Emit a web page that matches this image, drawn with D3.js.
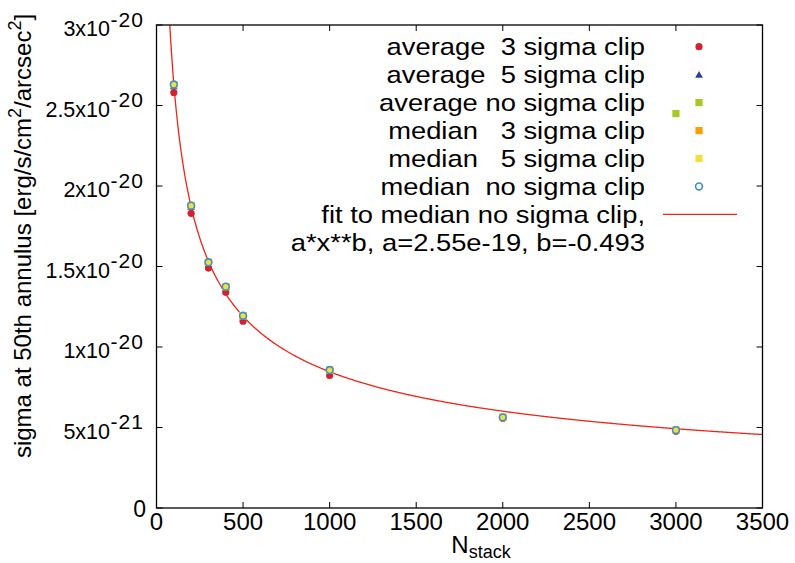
<!DOCTYPE html>
<html>
<head>
<meta charset="utf-8">
<script src="https://cdn.jsdelivr.net/npm/d3@7"></script>
<style>
  body { margin: 0; background: #fff; }
  text { font-family: "Liberation Sans", Arial, sans-serif; fill: #000; white-space: pre; }
</style>
</head>
<body>
<div id="chart"></div>
<script>
// values, sigma in units of 1e-20
const nStack = [100, 200, 300, 400, 500, 1000, 2000, 3000];
const avg3  = [2.58, 1.83, 1.49, 1.34, 1.16, 0.823, 0.558, 0.477];
const avg5  = [2.62, 1.87, 1.52, 1.37, 1.19, 0.853, 0.562, 0.482];
const avgNo = [2.63, 1.88, 1.525, 1.375, 1.195, 0.857, 0.564, 2.45];
const med3  = [2.63, 1.878, 1.526, 1.375, 1.194, 0.857, 0.563, 0.484];
const med5  = [2.63, 1.878, 1.526, 1.375, 1.194, 0.857, 0.563, 0.484];
const medNo = [2.63, 1.878, 1.526, 1.375, 1.194, 0.857, 0.563, 0.484];

const fitA = 2.55e-19, fitB = -0.493;

const xTicks = [0, 500, 1000, 1500, 2000, 2500, 3000, 3500];
const yTicks = [0, 0.5, 1, 1.5, 2, 2.5, 3];
const yTickLabels = [["0", ""], ["5x10", "-21"], ["1x10", "-20"], ["1.5x10", "-20"],
                     ["2x10", "-20"], ["2.5x10", "-20"], ["3x10", "-20"]];

const legendLabels = [
  "average  3 sigma clip",
  "average  5 sigma clip",
  "average no sigma clip",
  "median   3 sigma clip",
  "median   5 sigma clip",
  "median  no sigma clip",
  "fit to median no sigma clip,",
  "a*x**b, a=2.55e-19, b=-0.493"
];

const W = 795, H = 563;
const pLeft = 156.5, pRight = 762.5, pTop = 25, pBottom = 508;

const svg = d3.select('#chart').append('svg')
    .attr('width', W).attr('height', H);

const x = d3.scaleLinear().domain([0, 3500]).range([pLeft, pRight]);
const y = d3.scaleLinear().domain([0, 3]).range([pBottom, pTop]);

svg.append('defs').append('clipPath').attr('id', 'plot-clip')
  .append('rect')
    .attr('x', pLeft).attr('y', pTop)
    .attr('width', pRight - pLeft).attr('height', pBottom - pTop);

// ticks on all four sides, pointing inward
const tickLen = 6;
const tickG = svg.append('g').attr('stroke', '#000').attr('stroke-width', 1);
xTicks.forEach(t => {
    tickG.append('line').attr('x1', x(t)).attr('x2', x(t)).attr('y1', pBottom).attr('y2', pBottom - tickLen);
    tickG.append('line').attr('x1', x(t)).attr('x2', x(t)).attr('y1', pTop).attr('y2', pTop + tickLen);
});
yTicks.forEach(t => {
    tickG.append('line').attr('x1', pLeft).attr('x2', pLeft + tickLen).attr('y1', y(t)).attr('y2', y(t));
    tickG.append('line').attr('x1', pRight).attr('x2', pRight - tickLen).attr('y1', y(t)).attr('y2', y(t));
});

// x tick labels
svg.append('g').selectAll('text')
  .data(xTicks)
  .enter().append('text')
    .attr('x', d => x(d))
    .attr('y', 530)
    .attr('text-anchor', 'middle')
    .attr('font-size', 24)
    .text(d => d);

// y tick labels: mantissa ends at x=110, exponent follows as superscript
yTicks.forEach((t, i) => {
    const lab = yTickLabels[i];
    if (!lab[1]) {
        svg.append('text')
            .attr('x', 146).attr('y', y(t) + 9)
            .attr('text-anchor', 'end')
            .attr('font-size', 23)
            .text(lab[0]);
        return;
    }
    svg.append('text')
        .attr('x', 110).attr('y', y(t) + 11)
        .attr('text-anchor', 'end')
        .attr('font-size', 21.5)
        .text(lab[0]);
    svg.append('text')
        .attr('x', 110.5).attr('y', y(t) + 1.5)
        .attr('text-anchor', 'start')
        .attr('font-size', 21)
        .attr('letter-spacing', 1)
        .text(lab[1]);
});

// axis titles
const yTitle = svg.append('text')
    .attr('transform', 'translate(31, 236) rotate(-90)')
    .attr('text-anchor', 'middle')
    .attr('font-size', 24);
yTitle.append('tspan').text('sigma at 50th annulus [erg/s/cm');
yTitle.append('tspan').attr('dy', -10).attr('font-size', 18).text('2');
yTitle.append('tspan').attr('dy', 10).text('/arcsec');
yTitle.append('tspan').attr('dy', -10).attr('font-size', 18).text('2');
yTitle.append('tspan').attr('dy', 10).text(']');

const xTitle = svg.append('text')
    .attr('x', 481).attr('y', 553)
    .attr('text-anchor', 'middle')
    .attr('font-size', 24);
xTitle.append('tspan').text('N');
xTitle.append('tspan').attr('dy', 5).attr('font-size', 18).text('stack');

// fit curve
const fitX = d3.range(60, 3501, 5);
const fitLine = d3.line()
    .x(d => x(d))
    .y(d => y(fitA * Math.pow(d, fitB) / 1e-20));

svg.append('path')
    .datum(fitX)
    .attr('clip-path', 'url(#plot-clip)')
    .attr('fill', 'none')
    .attr('stroke', '#f02418')
    .attr('stroke-width', 1.3)
    .attr('d', fitLine);

// marker drawing helpers
const markers = {
    circle: (g, cx, cy, c) => g.append('circle').attr('cx', cx).attr('cy', cy).attr('r', 3.6).attr('fill', c),
    triangle: (g, cx, cy, c) => g.append('path')
        .attr('d', d3.symbol(d3.symbolTriangle, 26)())
        .attr('transform', `translate(${cx},${cy + 0.8})`).attr('fill', c),
    square: (g, cx, cy, c) => g.append('rect').attr('x', cx - 3.6).attr('y', cy - 3.6)
        .attr('width', 7.2).attr('height', 7.2).attr('fill', c),
    ring: (g, cx, cy, c) => g.append('circle').attr('cx', cx).attr('cy', cy).attr('r', 3.4)
        .attr('fill', 'none').attr('stroke', c).attr('stroke-width', 1.6)
};

const series = [
    { vals: avg3,  shape: 'circle',   color: '#d42132' },
    { vals: avg5,  shape: 'triangle', color: '#2b3f98' },
    { vals: avgNo, shape: 'square',   color: '#a6c923' },
    { vals: med3,  shape: 'square',   color: '#ff9c00' },
    { vals: med5,  shape: 'square',   color: '#f0e040' },
    { vals: medNo, shape: 'ring',     color: '#3a8fd2' }
];

const ptG = svg.append('g').attr('clip-path', 'url(#plot-clip)');
series.forEach(s => {
    s.vals.forEach((v, i) => markers[s.shape](ptG, x(nStack[i]), y(v), s.color));
});

// legend (text is drawn a bit wider than the plain font, as in the reference)
const legY0 = 46.7, legDy = 27.95;
const legG = svg.append('g');
legendLabels.forEach((lab, i) => {
    legG.append('text')
        .attr('transform', `translate(645, ${legY0 + i * legDy + 8.5}) scale(1.14, 1)`)
        .attr('text-anchor', 'end')
        .attr('font-size', 24)
        .text(lab);
});
series.forEach((s, i) => markers[s.shape](legG, 699, legY0 + i * legDy, s.color));
legG.append('line')
    .attr('x1', 663).attr('x2', 737)
    .attr('y1', legY0 + 6 * legDy).attr('y2', legY0 + 6 * legDy)
    .attr('stroke', '#f02418').attr('stroke-width', 1.3);

// border
svg.append('rect')
    .attr('x', pLeft).attr('y', pTop)
    .attr('width', pRight - pLeft).attr('height', pBottom - pTop)
    .attr('fill', 'none')
    .attr('stroke', '#000')
    .attr('stroke-width', 1.3);
</script>
</body>
</html>
